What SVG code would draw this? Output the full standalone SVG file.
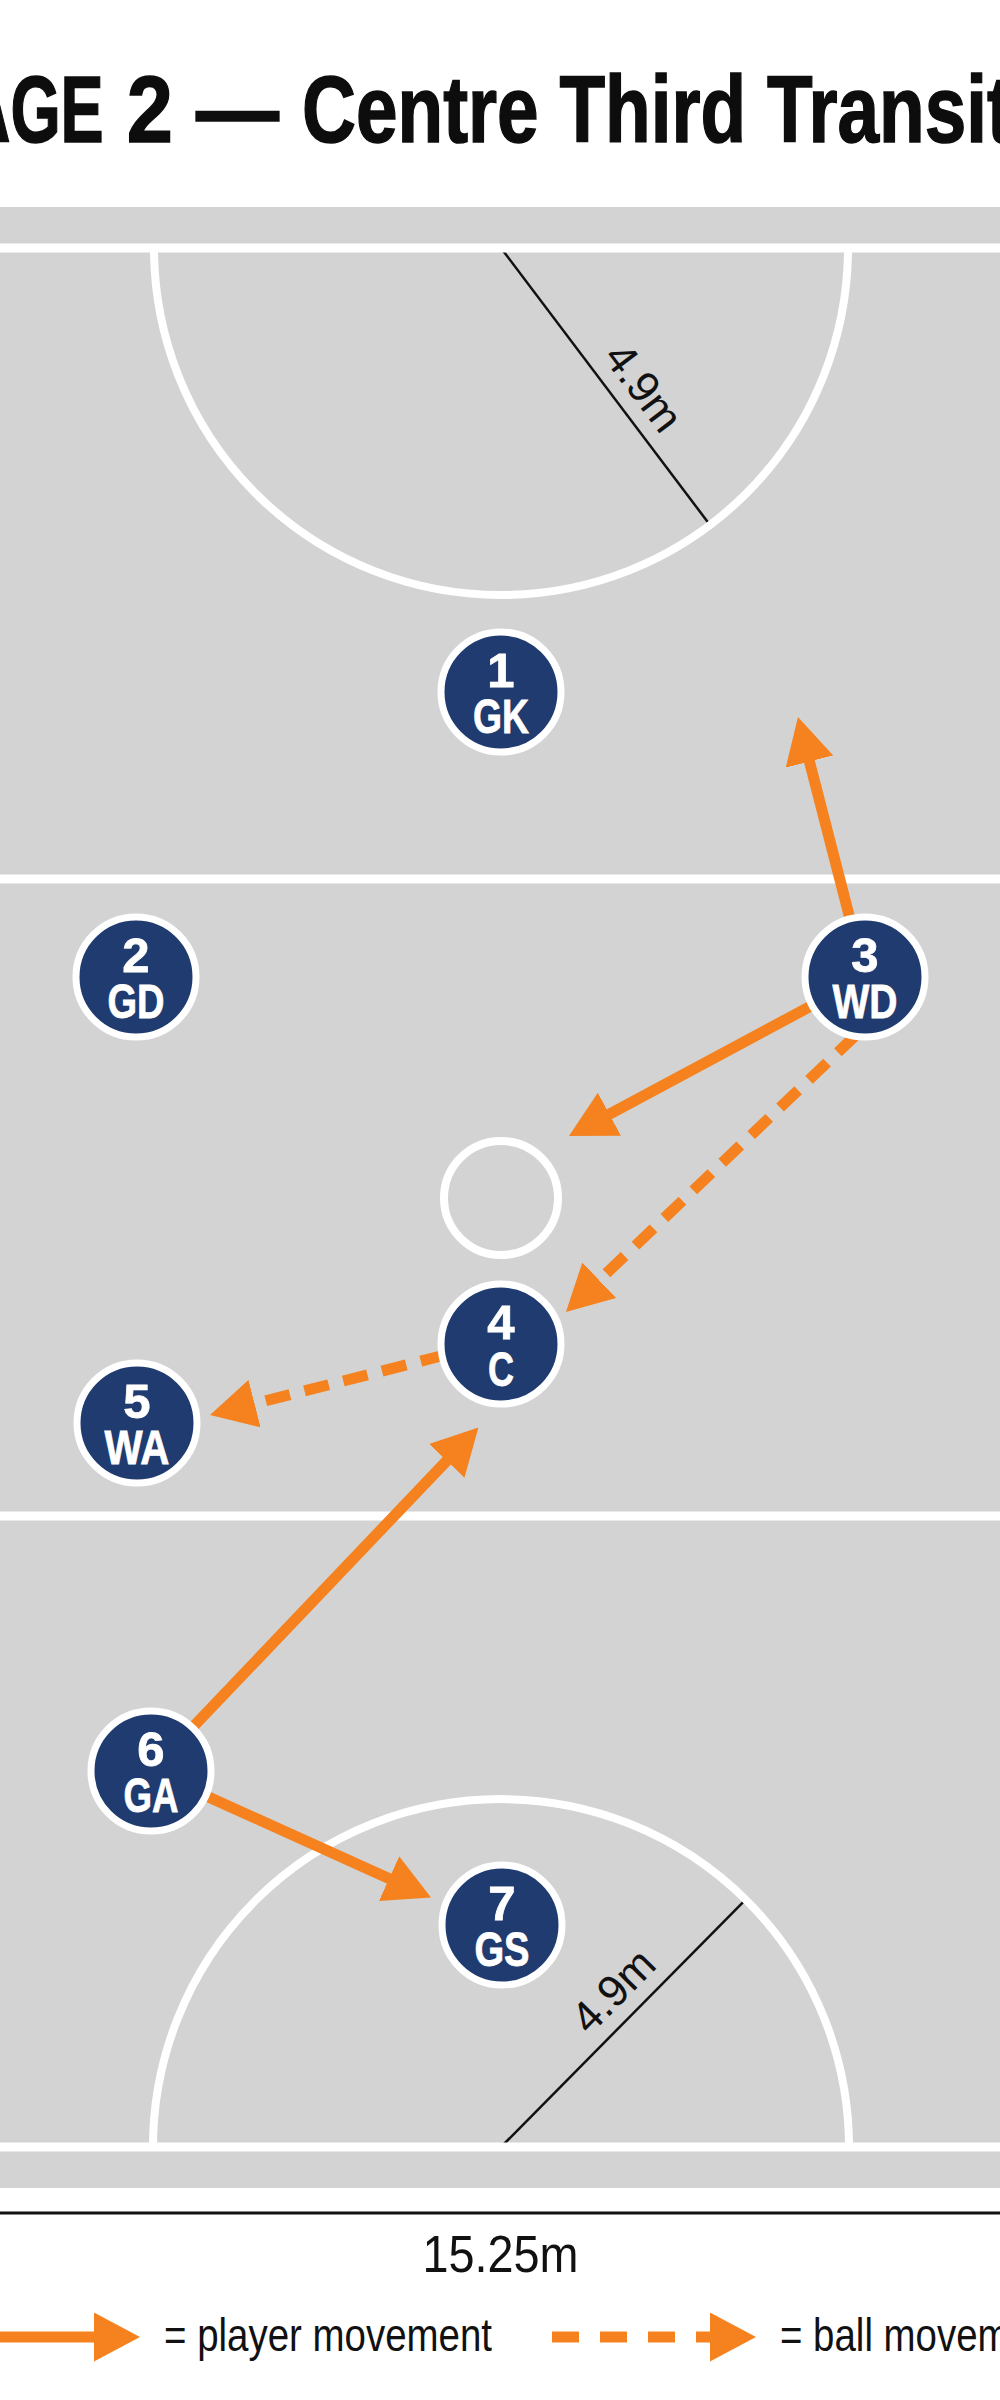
<svg xmlns="http://www.w3.org/2000/svg" width="1000" height="2400" viewBox="0 0 1000 2400">
  <defs>
    <style>
      .court-line { stroke: #ffffff; stroke-width: 9; fill: none; }
      .arc { stroke: #ffffff; stroke-width: 8; fill: none; }
      .dim { stroke: #111111; stroke-width: 2.5; fill: none; }
      .dim-text { font-family: "Liberation Sans", Arial, sans-serif; font-size: 44px; fill: #111111; text-anchor: middle; }
      .title { font-family: "Liberation Sans", Arial, sans-serif; font-weight: bold; font-size: 94px; fill: #0d0d0d; stroke: #0d0d0d; stroke-width: 1.5; }
      .player circle { fill: #1f3b6f; stroke: #ffffff; stroke-width: 7; }
      .player text { font-family: "Liberation Sans", Arial, sans-serif; font-weight: bold; font-size: 49px; fill: #ffffff; stroke: #ffffff; stroke-width: 0.8; text-anchor: middle; }
      .move { stroke: #f5821f; stroke-width: 11; fill: none; marker-end: url(#head); }
      .pass { stroke: #f5821f; stroke-width: 11; fill: none; stroke-dasharray: 25 15; marker-end: url(#head); }
      .legend-text { font-family: "Liberation Sans", Arial, sans-serif; font-size: 46px; fill: #111111; }
      .scale-text { font-family: "Liberation Sans", Arial, sans-serif; font-size: 52px; fill: #111111; text-anchor: middle; }
    </style>
    <marker id="head" markerUnits="userSpaceOnUse" viewBox="0 0 46 49" markerWidth="46" markerHeight="49" refX="1" refY="24.5" orient="auto">
      <path d="M0,0 L46,24.5 L0,49 Z" fill="#f5821f"/>
    </marker>
  </defs>

  <rect x="0" y="0" width="1000" height="2400" fill="#ffffff"/>

  <g id="title">
    <text class="title" y="142"><tspan x="-114" textLength="217.7" lengthAdjust="spacingAndGlyphs">STAGE</tspan><tspan x="103.7" textLength="198.3" lengthAdjust="spacingAndGlyphs"> 2 — </tspan><tspan x="302" textLength="822" lengthAdjust="spacingAndGlyphs">Centre Third Transition</tspan></text>
  </g>

  <g id="court">
    <rect x="0" y="207" width="1000" height="1981" fill="#d3d3d3"/>
    <line class="dim" x1="501" y1="248" x2="710" y2="525"/>
    <line class="dim" x1="501" y1="2147" x2="745.6" y2="1899.6"/>
    <path class="arc" d="M154,248 A347,347 0 0 0 848,248"/>
    <path class="arc" d="M153,2147 A348,348 0 0 1 849,2147"/>
    <line class="court-line" x1="0" y1="248" x2="1000" y2="248"/>
    <line class="court-line" x1="0" y1="879" x2="1000" y2="879"/>
    <line class="court-line" x1="0" y1="1516" x2="1000" y2="1516"/>
    <line class="court-line" x1="0" y1="2147" x2="1000" y2="2147"/>
    <circle class="arc" cx="501" cy="1198" r="57"/>
    <text class="dim-text" transform="translate(619.6,405.4) rotate(53)" x="0" y="-15">4.9m</text>
    <text class="dim-text" transform="translate(634.6,2011.9) rotate(-45.3)" x="0" y="-15">4.9m</text>
  </g>

  <g id="connectors">
    <line class="move" x1="865" y1="977" x2="809.2" y2="760.6"/>
    <line class="move" x1="865" y1="977" x2="608.6" y2="1114.7"/>
    <line class="pass" x1="856" y1="1035" x2="598.5" y2="1280.9"/>
    <line class="pass" x1="445" y1="1355" x2="253.6" y2="1403.9"/>
    <line class="move" x1="151" y1="1771" x2="447.4" y2="1460.1"/>
    <line class="move" x1="151" y1="1771" x2="390" y2="1879"/>
  </g>

  <g id="player-1" class="player">
    <circle cx="501" cy="692" r="60"/>
    <text><tspan x="501" y="687">1</tspan><tspan x="501" y="733" textLength="56" lengthAdjust="spacingAndGlyphs">GK</tspan></text>
  </g>
  <g id="player-2" class="player">
    <circle cx="136" cy="977" r="60"/>
    <text><tspan x="136" y="972">2</tspan><tspan x="136" y="1018" textLength="57" lengthAdjust="spacingAndGlyphs">GD</tspan></text>
  </g>
  <g id="player-3" class="player">
    <circle cx="865" cy="977" r="60"/>
    <text><tspan x="865" y="972">3</tspan><tspan x="865" y="1018" textLength="65" lengthAdjust="spacingAndGlyphs">WD</tspan></text>
  </g>
  <g id="player-4" class="player">
    <circle cx="501" cy="1344" r="60"/>
    <text><tspan x="501" y="1339">4</tspan><tspan x="501" y="1386" textLength="26" lengthAdjust="spacingAndGlyphs">C</tspan></text>
  </g>
  <g id="player-5" class="player">
    <circle cx="137" cy="1423" r="60"/>
    <text><tspan x="137" y="1418">5</tspan><tspan x="137" y="1464" textLength="65" lengthAdjust="spacingAndGlyphs">WA</tspan></text>
  </g>
  <g id="player-6" class="player">
    <circle cx="151" cy="1771" r="60"/>
    <text><tspan x="151" y="1766">6</tspan><tspan x="151" y="1812" textLength="55" lengthAdjust="spacingAndGlyphs">GA</tspan></text>
  </g>
  <g id="player-7" class="player">
    <circle cx="502" cy="1925" r="60"/>
    <text><tspan x="502" y="1920">7</tspan><tspan x="502" y="1966" textLength="55" lengthAdjust="spacingAndGlyphs">GS</tspan></text>
  </g>

  <g id="scale">
    <line x1="0" y1="2213" x2="1000" y2="2213" stroke="#111111" stroke-width="3"/>
    <text class="scale-text" x="500.5" y="2272" textLength="156" lengthAdjust="spacingAndGlyphs">15.25m</text>
  </g>

  <g id="legend">
    <line class="move" x1="-5" y1="2337" x2="95" y2="2337"/>
    <text class="legend-text" x="164" y="2351" textLength="328" lengthAdjust="spacingAndGlyphs">= player movement</text>
    <line class="move" x1="552" y1="2337" x2="711" y2="2337" stroke-dasharray="27 21"/>
    <text class="legend-text" x="780" y="2351" textLength="283" lengthAdjust="spacingAndGlyphs">= ball movement</text>
  </g>
</svg>
